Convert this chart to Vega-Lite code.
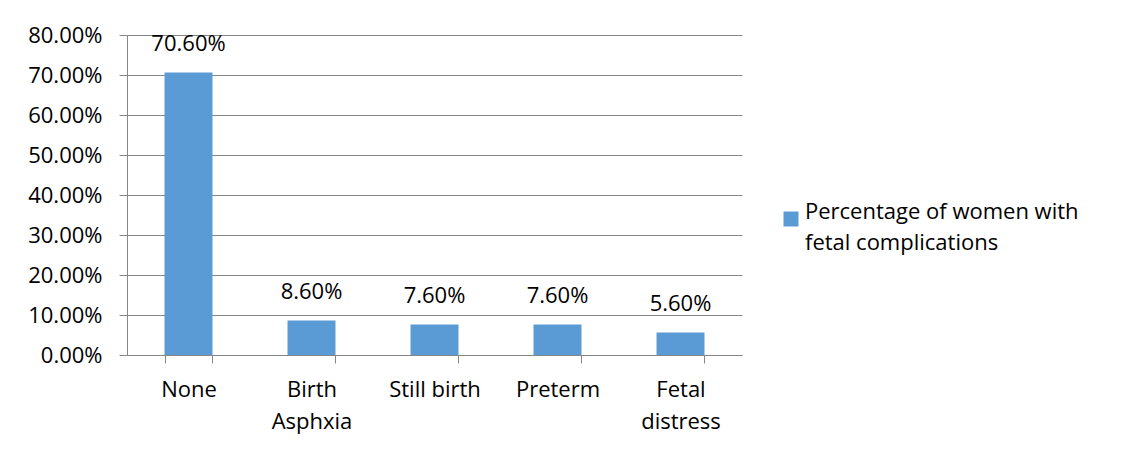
{
  "$schema": "https://vega.github.io/schema/vega-lite/v6.json",
  "autosize": {"type": "none"},
  "width": 615,
  "height": 320,
  "padding": {"left": 127, "top": 35, "right": 382, "bottom": 95},
  "background": "white",
  "config": {
    "view": {"stroke": null},
    "font": "Open Sans",
    "text": {"font": "Open Sans"},
    "style": {"guide-label": {"lineHeight": 31}}
  },
  "data": {
    "values": [
      {"category": "None", "value": 0.706, "series": "Percentage of women with fetal complications"},
      {"category": "Birth Asphxia", "value": 0.086, "series": "Percentage of women with fetal complications"},
      {"category": "Still birth", "value": 0.076, "series": "Percentage of women with fetal complications"},
      {"category": "Preterm", "value": 0.076, "series": "Percentage of women with fetal complications"},
      {"category": "Fetal distress", "value": 0.056, "series": "Percentage of women with fetal complications"}
    ]
  },
  "encoding": {
    "x": {
      "field": "category",
      "type": "nominal",
      "sort": null,
      "scale": {"paddingInner": 0.61, "paddingOuter": 0.305},
      "axis": {
        "title": null,
        "labelAngle": 0,
        "labelFont": "Open Sans",
        "labelFontSize": 22,
        "labelColor": "#000000",
        "labelPadding": 16,
        "labelLineHeight": 32,
        "labelLimit": 200,
        "labelExpr": "datum.value == null ? '' : (datum.value == 'Still birth' ? datum.value : split(datum.value, ' '))",
        "domainColor": "#868686",
        "tickColor": "#868686",
        "tickSize": 8,
        "tickBand": "extent",
        "grid": false
      }
    },
    "y": {
      "field": "value",
      "type": "quantitative",
      "scale": {"domain": [0, 0.8]},
      "axis": {
        "title": null,
        "format": ".2%",
        "values": [0, 0.1, 0.2, 0.3, 0.4, 0.5, 0.6, 0.7, 0.8],
        "labelOverlap": false,
        "labelFont": "Open Sans",
        "labelFontSize": 22,
        "labelColor": "#000000",
        "labelPadding": 17,
        "domainColor": "#868686",
        "tickColor": "#868686",
        "tickSize": 8,
        "gridColor": "#868686",
        "gridWidth": 1
      }
    }
  },
  "layer": [
    {
      "mark": {"type": "bar", "color": "#5B9BD5"},
      "encoding": {
        "color": {
          "field": "series",
          "type": "nominal",
          "scale": {"range": ["#5B9BD5"]},
          "legend": {
            "title": null,
            "orient": "none",
            "legendX": 653,
            "legendY": 173,
            "padding": 0,
            "symbolType": "square",
            "symbolSize": 225,
            "symbolStrokeWidth": 0,
            "symbolOpacity": 1,
            "labelFont": "Open Sans",
            "labelFontSize": 22,
            "labelColor": "#000000",
            "labelLimit": 400,
            "labelBaseline": "alphabetic",
            "labelExpr": "['Percentage of women with', 'fetal complications']",
            "labelOffset": 3
          }
        }
      }
    },
    {
      "mark": {"type": "text", "baseline": "alphabetic", "dy": -22, "fontSize": 22, "font": "Open Sans", "color": "#000000"},
      "encoding": {
        "text": {"field": "value", "type": "quantitative", "format": ".2%"}
      }
    }
  ]
}
